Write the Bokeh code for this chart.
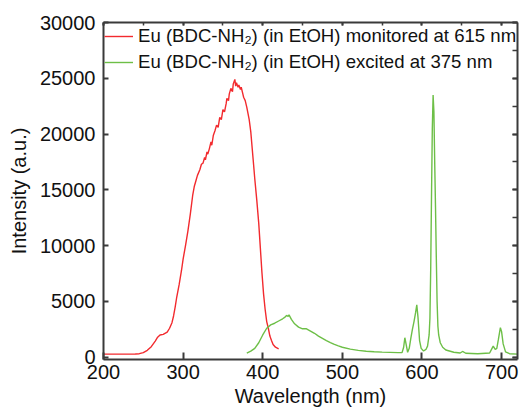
from bokeh.plotting import figure
from bokeh.models import (Range1d, LinearAxis, SingleIntervalTicker, Legend, LegendItem,
                          CustomLabelingPolicy)
from bokeh.embed import file_html
from bokeh.resources import INLINE

# ---- data ----
red_nm = [200, 210, 220, 230, 240, 245, 250, 255, 260, 265, 268, 271, 275, 280, 283, 286,
          288, 290, 292, 295, 298, 300, 303, 306, 309, 312, 314, 316, 318, 321, 323, 325,
          327, 328, 330, 331, 333, 335, 336, 338, 340, 342, 344, 346, 348, 350, 352, 354,
          355, 357, 358, 360, 362, 363, 365, 366, 367, 369, 370, 372, 373, 375, 376, 378,
          380, 383, 385, 388, 390, 392.5, 395, 397, 399, 401, 403, 405, 407, 409, 411, 413,
          416, 420]
red_val = [280, 280, 280, 280, 290, 320, 420, 620, 950, 1450, 1800, 2000, 2050, 2250, 2600, 3100,
           3700, 4500, 5400, 6500, 7800, 8800, 10000, 11300, 12800, 14500, 15300, 15800, 16300, 16800, 17300, 17400,
           17900, 17700, 18400, 18200, 18700, 19300, 19000, 19900, 20300, 20800, 20600, 21500, 21300, 22200, 22000, 22700,
           23200, 23000, 23600, 24100, 23800, 24500, 24900, 24300, 24600, 24200, 24400, 24000, 24200, 23600, 23300, 23000,
           22400, 21300, 20200, 17700, 16000, 14100, 12000, 9800, 7600, 5700, 4300, 3200, 2600, 1900, 1500, 1150,
           900, 750]

green_nm = [380, 385, 390, 395, 400, 405, 410, 415, 420, 425, 428, 430, 432, 433, 436, 440,
            445, 450, 455, 460, 465, 470, 475, 480, 485, 490, 495, 500, 510, 520, 530, 540,
            550, 560, 570, 575, 577, 578.5, 580, 582, 584, 586, 588, 590, 592, 593.5, 595, 597,
            599, 602, 605, 607, 609, 610, 611, 612, 613, 614, 615, 616, 617, 618, 619, 620,
            621, 623, 626, 630, 640, 648, 651, 655, 670, 685, 688, 689.5, 692, 694, 696, 698.5,
            700, 702, 705, 710, 720]
green_val = [380, 550, 800, 1300, 2000, 2600, 2900, 3050, 3250, 3450, 3600, 3750, 3650, 3800, 3400, 3000,
             2700, 2550, 2550, 2350, 2150, 1900, 1700, 1500, 1320, 1150, 1020, 900, 730, 620, 540, 490,
             460, 440, 420, 420, 900, 1750, 1200, 450, 800, 1700, 2500, 3200, 4000, 4700, 3600, 1500,
             800, 560, 700, 1000, 2000, 3500, 8000, 14500, 20500, 23500, 22000, 17500, 13500, 9000, 5000, 2800,
             2000, 1300, 900, 650, 450, 380, 520, 360, 320, 380, 800, 1000, 700, 800, 1600, 2650,
             2300, 1200, 480, 320, 280]

red_label = "Eu (BDC-NH\u2082) (in EtOH) monitored at 615 nm"
green_label = "Eu (BDC-NH\u2082) (in EtOH) excited at 375 nm"
x_title = "Wavelength (nm)"
y_title = "Intensity (a.u.)"

RED = "#f22a2e"
GREEN = "#6dbf47"
AX = "#3a3a3a"
FONT = "Liberation Sans"

p = figure(width=523, height=412, output_backend="svg", toolbar_location=None,
           x_range=Range1d(200, 720), y_range=Range1d(-200, 30000),
           min_border_left=103, min_border_right=4, min_border_top=22, min_border_bottom=53,
           x_axis_type=None, y_axis_type=None)
p.xgrid.visible = False
p.ygrid.visible = False
p.outline_line_color = None
p.background_fill_color = "white"
p.border_fill_color = "white"

hide_all = CustomLabelingPolicy(code="for (const i of indices) { indices.unset(i) }; return indices")

def style(ax, tick_in, minor_in=0, labels=True):
    ax.axis_line_color = AX
    ax.axis_line_width = 2
    ax.major_tick_line_color = AX
    ax.major_tick_line_width = 2
    ax.major_tick_in = tick_in
    ax.major_tick_out = 0
    if minor_in:
        ax.minor_tick_line_color = AX
        ax.minor_tick_line_width = 1.5
        ax.minor_tick_in = minor_in
        ax.minor_tick_out = 0
    else:
        ax.minor_tick_line_color = None
    if labels:
        ax.major_label_text_font = FONT
        ax.major_label_text_font_size = "20px"
        ax.major_label_text_color = "#111111"
        ax.axis_label_text_font = FONT
        ax.axis_label_text_font_size = "20px"
        ax.axis_label_text_font_style = "normal"
        ax.axis_label_text_color = "#111111"
    else:
        ax.major_label_policy = hide_all
        ax.major_label_text_font_size = "1px"
        ax.major_label_standoff = 0

bottom = LinearAxis(ticker=SingleIntervalTicker(interval=100, num_minor_ticks=0), axis_label=x_title)
style(bottom, 7)
bottom.major_label_standoff = 5
bottom.axis_label_standoff = 3
p.add_layout(bottom, "below")

left = LinearAxis(ticker=SingleIntervalTicker(interval=5000, num_minor_ticks=0), axis_label=y_title)
style(left, 5)
left.major_label_standoff = 8
left.axis_label_standoff = 7
p.add_layout(left, "left")

right = LinearAxis(ticker=SingleIntervalTicker(interval=5000, num_minor_ticks=2))
style(right, 5, minor_in=5, labels=False)
p.add_layout(right, "right")

top = LinearAxis(ticker=SingleIntervalTicker(interval=100, num_minor_ticks=2))
style(top, 3, minor_in=3, labels=False)
p.add_layout(top, "above")

r1 = p.line(red_nm, red_val, line_color=RED, line_width=1.4)
r2 = p.line(green_nm, green_val, line_color=GREEN, line_width=1.4)

legend = Legend(items=[LegendItem(label=red_label, renderers=[r1]),
                       LegendItem(label=green_label, renderers=[r2])],
                location="top_left")
legend.border_line_color = None
legend.background_fill_alpha = 0
legend.label_text_font = FONT
legend.label_text_font_size = "18.6px"
legend.label_text_color = "#111111"
legend.glyph_width = 29
legend.glyph_height = 26
legend.label_height = 26
legend.spacing = 0
legend.padding = 2
legend.margin = 1
legend.label_standoff = 5
p.add_layout(legend)

open("out.html", "w").write(file_html(p, INLINE))
